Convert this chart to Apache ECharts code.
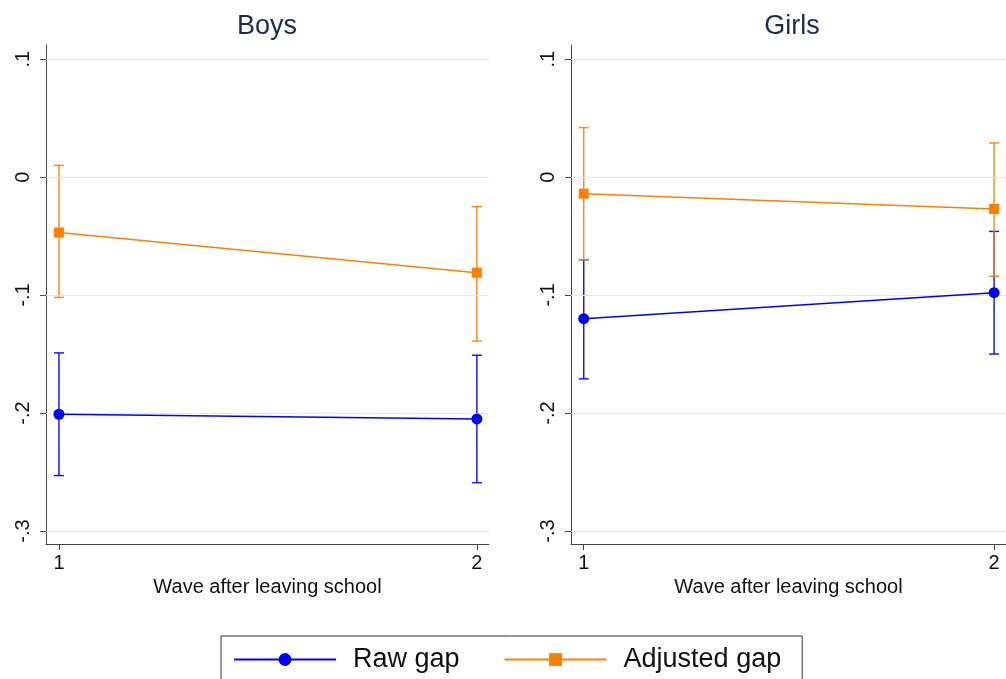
<!DOCTYPE html>
<html><head><meta charset="utf-8">
<script src="https://cdn.jsdelivr.net/npm/echarts@6/dist/echarts.min.js"></script>
<style>html,body{margin:0;padding:0;background:#fff}#c{width:1006px;height:679px}</style>
</head><body><div id="c"></div>
<script>
const waves = [1, 2];
const panelTitles = ['Boys', 'Girls'];
const yTicks = [-0.3, -0.2, -0.1, 0, 0.1];
const xTicks = [1, 2];
const boysRaw = [-0.201, -0.205];
const boysRawLo = [-0.253, -0.259];
const boysRawHi = [-0.149, -0.151];
const boysAdj = [-0.047, -0.081];
const boysAdjLo = [-0.102, -0.139];
const boysAdjHi = [0.010, -0.025];
const girlsRaw = [-0.120, -0.098];
const girlsRawLo = [-0.171, -0.150];
const girlsRawHi = [-0.070, -0.046];
const girlsAdj = [-0.014, -0.027];
const girlsAdjLo = [-0.070, -0.084];
const girlsAdjHi = [0.042, 0.029];

const BLUE = '#0000ff', ORANGE = '#ff7f00';
const FONT = 'Liberation Sans, Arial, sans-serif';

function fmtY(v){
  if (Math.abs(v) < 1e-9) return '0';
  const s = (Math.round(v*10)/10).toString();
  return s.replace('0.', '.');
}
function errRender(color){
  return function(params, api){
    const x = api.value(0), lo = api.value(1), hi = api.value(2);
    const p1 = api.coord([x, hi]), p2 = api.coord([x, lo]);
    const w = 5;
    const style = {stroke: color, lineWidth: 1.5, opacity: 0.9};
    return {type:'group', children:[
      {type:'line', shape:{x1:p1[0],y1:p1[1],x2:p2[0],y2:p2[1]}, style},
      {type:'line', shape:{x1:p1[0]-w,y1:p1[1],x2:p1[0]+w,y2:p1[1]}, style},
      {type:'line', shape:{x1:p2[0]-w,y1:p2[1],x2:p2[0]+w,y2:p2[1]}, style}
    ]};
  };
}
const panels = [
  {raw: boysRaw, rawLo: boysRawLo, rawHi: boysRawHi, adj: boysAdj, adjLo: boysAdjLo, adjHi: boysAdjHi, left: 46},
  {raw: girlsRaw, rawLo: girlsRawLo, rawHi: girlsRawHi, adj: girlsAdj, adjLo: girlsAdjLo, adjHi: girlsAdjHi, left: 571}
];
const grids = [], xAxes = [], yAxes = [], series = [], titles = [];
panels.forEach((p, i) => {
  grids.push({left: p.left, top: 45, width: 443, height: 499, containLabel: false});
  titles.push({text: panelTitles[i], left: p.left + 216, top: 8, textAlign: 'center',
    textStyle: {fontFamily: FONT, fontSize: 27, fontWeight: 'normal', color: '#1c2c4c'}});
  xAxes.push({type: 'value', gridIndex: i, min: 0.969, max: 2.029,
    name: 'Wave after leaving school', nameLocation: 'middle', nameGap: 31,
    nameTextStyle: {fontFamily: FONT, fontSize: 20, color: '#111'},
    axisLine: {show: true, onZero: false, lineStyle: {color: '#444', width: 1}},
    axisTick: {show: true, length: 6, customValues: xTicks, lineStyle: {color: '#444'}},
    axisLabel: {customValues: xTicks, margin: 9, fontFamily: FONT, fontSize: 20, color: '#111',
      formatter: v => String(Math.round(v))},
    splitLine: {show: false}});
  yAxes.push({type: 'value', gridIndex: i, min: -0.311, max: 0.112,
    axisLine: {show: true, onZero: false, lineStyle: {color: '#444', width: 1}},
    axisTick: {show: true, length: 6, customValues: yTicks, lineStyle: {color: '#444'}},
    axisLabel: {customValues: yTicks, rotate: 90, margin: 13, fontFamily: FONT, fontSize: 20, color: '#111',
      formatter: fmtY},
    splitLine: {show: false}});
  series.push({type: 'line', xAxisIndex: i, yAxisIndex: i, data: [], z: 1, silent: true,
    markLine: {silent: true, symbol: 'none', label: {show: false}, animation: false,
      lineStyle: {color: '#e6e6e6', width: 1.2, type: 'solid'},
      data: yTicks.map(v => ({yAxis: v}))}});
  series.push({type: 'custom', xAxisIndex: i, yAxisIndex: i, z: 3, renderItem: errRender(BLUE),
    data: waves.map((w, k) => [w, p.rawLo[k], p.rawHi[k]]), animation: false});
  series.push({type: 'custom', xAxisIndex: i, yAxisIndex: i, z: 4, renderItem: errRender(ORANGE),
    data: waves.map((w, k) => [w, p.adjLo[k], p.adjHi[k]]), animation: false});
  series.push({name: 'Raw gap', type: 'line', xAxisIndex: i, yAxisIndex: i, z: 5,
    data: waves.map((w, k) => [w, p.raw[k]]), symbol: 'circle', symbolSize: 11,
    lineStyle: {color: BLUE, width: 1.5}, itemStyle: {color: BLUE}, animation: false});
  series.push({name: 'Adjusted gap', type: 'line', xAxisIndex: i, yAxisIndex: i, z: 5,
    data: waves.map((w, k) => [w, p.adj[k]]), symbol: 'rect', symbolSize: 10,
    lineStyle: {color: ORANGE, width: 1.5}, itemStyle: {color: ORANGE}, animation: false});
});
const chart = echarts.init(document.getElementById('c'), null, {renderer: 'canvas'});
chart.setOption({
  backgroundColor: '#fff',
  animation: false,
  title: titles,
  grid: grids, xAxis: xAxes, yAxis: yAxes, series: series,
  legend: {data: ['Raw gap', 'Adjusted gap'], left: 221, top: 636, orient: 'horizontal',
    borderColor: '#333', borderWidth: 1, padding: [10, 21, 20, 12],
    itemWidth: 102, itemHeight: 16, itemGap: 44,
    textStyle: {fontFamily: FONT, fontSize: 27, color: '#111', padding: [0, 0, 0, 12]}}
});
</script></body></html>
